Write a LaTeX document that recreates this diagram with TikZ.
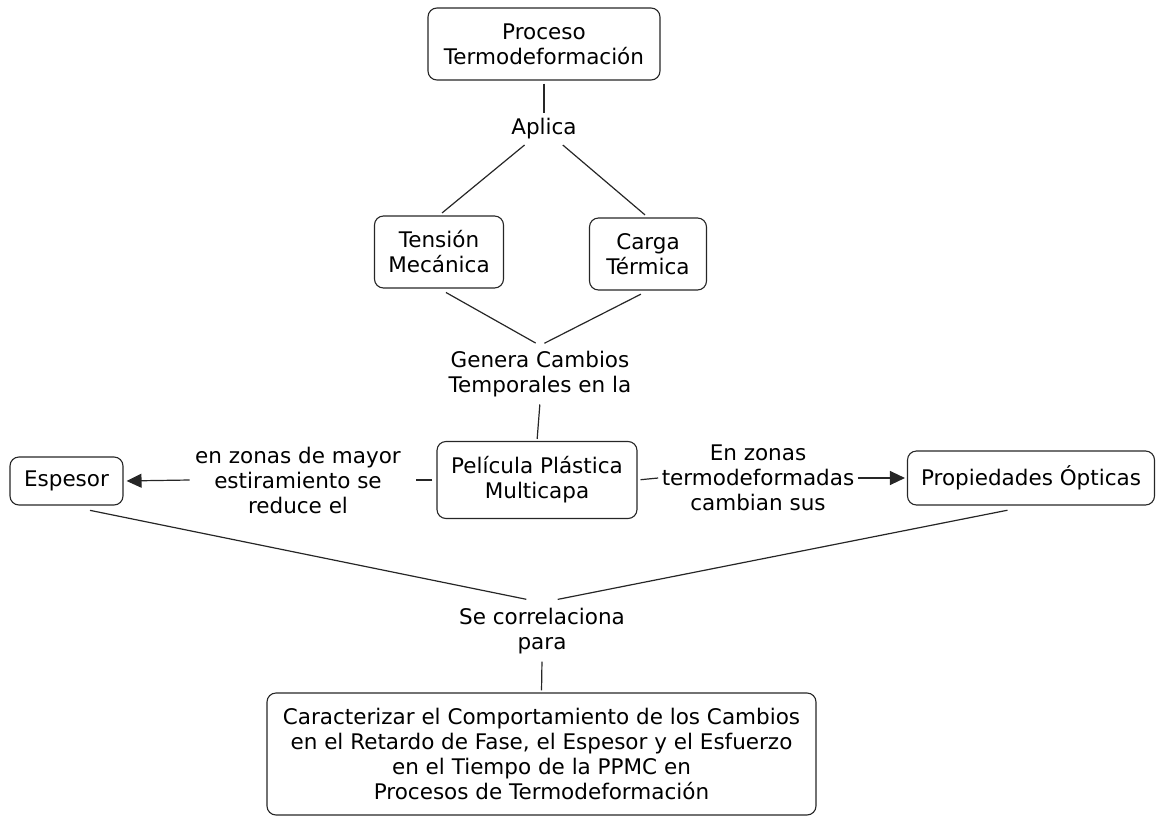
\documentclass[tikz,border=0pt]{standalone}
\usepackage{fontspec}
\setmainfont{DejaVu Sans}
\usetikzlibrary{arrows.meta, calc}

\begin{document}
\begin{tikzpicture}[x=1pt, y=-1pt,
    concepto/.style={draw=black!85, rounded corners=9pt, align=center, line width=1.1pt, inner sep=0pt},
    enlace/.style={align=center, inner sep=5pt},
    flecha/.style={-{Triangle[length=15pt, width=14pt]}},
    font=\fontsize{21.5}{25}\selectfont, line width=1.2pt, draw=black!85]
  \useasboundingbox (0,0) rectangle (1157,817);

  % conceptos
  \node[concepto, minimum width=232pt, minimum height=72pt] (proceso) at (544,44) {Proceso\\Termodeformación};
  \node[concepto, minimum width=129pt, minimum height=72pt] (tension) at (439,252) {Tensión\\Mecánica};
  \node[concepto, minimum width=117pt, minimum height=72pt] (carga) at (648,254) {Carga\\Térmica};
  \node[concepto, minimum width=200pt, minimum height=77pt] (pelicula) at (537,480) {Película Plástica\\Multicapa};
  \node[concepto, minimum width=113pt, minimum height=48pt] (espesor) at (66.5,481) {Espesor};
  \node[concepto, minimum width=247pt, minimum height=54pt] (propiedades) at (1031,478) {Propiedades Ópticas};
  \node[concepto, minimum width=549pt, minimum height=122pt] (objetivo) at (541.5,754)
    {Caracterizar el Comportamiento de los Cambios\\en el Retardo de Fase, el Espesor y el Esfuerzo\\en el Tiempo de la PPMC en\\Procesos de Termodeformación};

  % frases de enlace
  \node[enlace] (aplica) at (544,129) {Aplica};
  \node[enlace] (genera) at (540,374) {Genera Cambios\\Temporales en la};
  \node[enlace] (reduce) at (298,480) {en zonas de mayor\\estiramiento se\\reduce el};
  \node[enlace, inner xsep=3pt] (cambian) at (758,478) {En zonas\\termodeformadas\\cambian sus};
  \node[enlace] (correla) at (542,631) {Se correlaciona\\para};

  % conexiones
  \draw[shorten <=3pt] (proceso.south) -- (aplica.north);
  \draw[shorten <=4pt] (tension.north) -- (aplica);
  \draw[shorten <=4pt] (carga.north) -- (aplica);
  \draw[shorten <=8pt, shorten >=5pt] (tension.south) -- (genera.north);
  \draw[shorten <=8pt, shorten >=5pt] (carga.south) -- (genera.north);
  \draw[shorten <=2pt, shorten >=2pt] (genera.south) -- (pelicula.north);
  \draw[shorten <=4pt, shorten >=10pt] (pelicula.west) -- (reduce.east);
  \draw[flecha, shorten >=3pt] (reduce.west) -- (espesor.east);
  \draw[shorten <=3pt] (pelicula.east) -- (cambian.west);
  \draw[flecha, shorten >=2pt] (cambian.east) -- (propiedades.west);
  \draw[shorten <=24pt, shorten >=16pt] (espesor.south) -- (correla.north);
  \draw[shorten <=24pt, shorten >=16pt] (propiedades.south) -- (correla.north);
  \draw[shorten <=2pt, shorten >=2pt] (correla.south) -- (objetivo.north);
\end{tikzpicture}
\end{document}
